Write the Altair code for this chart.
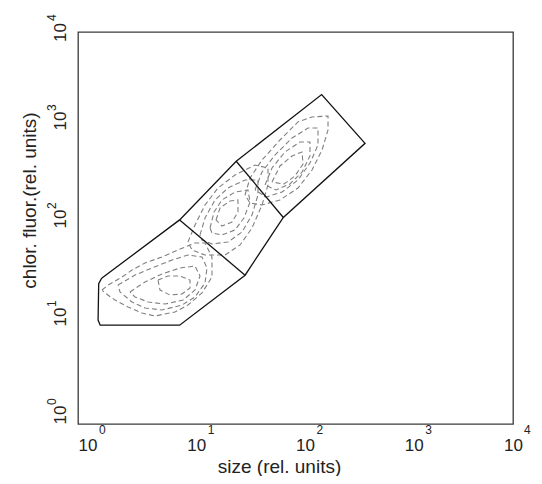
import altair as alt
import pandas as pd

# ---------------- axis ticks ----------------
tick_values = [1, 10, 100, 1000, 10000]
tick_exponents = ["0", "1", "2", "3", "4"]

# ---------------- gates (rel. units) ----------------
gate_x = [1.65, 1.55, 1.53, 1.6, 8.6, 34.4, 50, 77.3, 436, 174, 28.5, 8.6, 1.65]
gate_y = [30.7, 27, 11.5, 10.2, 10.2, 33, 62, 128, 731, 2300, 480, 121, 30.7]
divider1_x = [8.6, 34.4]
divider1_y = [121, 33]
divider2_x = [28.5, 77.3]
divider2_y = [480, 128]

# ---------------- contour rings (read in decades, log10 of rel. units) ----------------
lower_1_lx = [0.221, 0.276, 0.405, 0.497, 0.616, 0.772, 0.920, 1.076, 1.168, 1.232, 1.232, 1.140, 1.011, 0.892, 0.708, 0.589, 0.460, 0.340, 0.248]
lower_1_ly = [1.367, 1.418, 1.500, 1.571, 1.643, 1.704, 1.776, 1.847, 1.847, 1.704, 1.500, 1.337, 1.214, 1.143, 1.102, 1.133, 1.194, 1.265, 1.337]
lower_2_lx = [0.368, 0.524, 0.680, 0.864, 1.011, 1.140, 1.186, 1.168, 1.076, 0.956, 0.772, 0.616, 0.497, 0.386]
lower_2_ly = [1.418, 1.520, 1.592, 1.673, 1.724, 1.704, 1.592, 1.439, 1.296, 1.214, 1.163, 1.184, 1.245, 1.347]
lower_3_lx = [0.478, 0.616, 0.772, 0.938, 1.076, 1.122, 1.076, 0.966, 0.800, 0.644, 0.524]
lower_3_ly = [1.347, 1.449, 1.531, 1.592, 1.612, 1.510, 1.367, 1.265, 1.224, 1.245, 1.296]
lower_4_lx = [0.736, 0.754, 0.846, 0.956, 1.030, 1.030, 0.938, 0.828]
lower_4_ly = [1.469, 1.367, 1.316, 1.327, 1.388, 1.469, 1.510, 1.510]

middle_1_lx = [1.011, 1.076, 1.168, 1.287, 1.444, 1.628, 1.747, 1.747, 1.692, 1.600, 1.490, 1.352, 1.168, 1.048]
middle_1_ly = [1.857, 2.031, 2.235, 2.408, 2.541, 2.643, 2.612, 2.439, 2.235, 2.000, 1.827, 1.724, 1.724, 1.776]
middle_2_lx = [1.122, 1.168, 1.260, 1.379, 1.536, 1.655, 1.655, 1.600, 1.508, 1.379, 1.232, 1.140]
middle_2_ly = [1.929, 2.102, 2.286, 2.408, 2.490, 2.490, 2.337, 2.133, 1.959, 1.857, 1.837, 1.878]
middle_3_lx = [1.214, 1.251, 1.324, 1.444, 1.563, 1.582, 1.526, 1.444, 1.324, 1.232]
middle_3_ly = [2.000, 2.163, 2.286, 2.367, 2.388, 2.265, 2.102, 1.980, 1.929, 1.949]
middle_4_lx = [1.269, 1.306, 1.398, 1.471, 1.471, 1.416, 1.324]
middle_4_ly = [2.082, 2.204, 2.276, 2.286, 2.163, 2.061, 2.020]

upper_1_lx = [1.536, 1.582, 1.692, 1.857, 2.023, 2.152, 2.299, 2.299, 2.244, 2.152, 2.023, 1.857, 1.692, 1.582]
upper_1_ly = [2.337, 2.510, 2.694, 2.898, 3.082, 3.133, 3.143, 3.000, 2.796, 2.592, 2.408, 2.286, 2.235, 2.255]
upper_2_lx = [1.628, 1.692, 1.811, 1.968, 2.115, 2.207, 2.207, 2.133, 2.023, 1.876, 1.729]
upper_2_ly = [2.388, 2.571, 2.745, 2.918, 3.020, 3.020, 2.847, 2.663, 2.490, 2.367, 2.316]
upper_3_lx = [1.720, 1.784, 1.903, 2.041, 2.133, 2.133, 2.060, 1.949, 1.821]
upper_3_ly = [2.439, 2.612, 2.776, 2.878, 2.878, 2.735, 2.571, 2.449, 2.388]
upper_4_lx = [1.784, 1.857, 1.968, 2.060, 2.069, 1.995, 1.894]
upper_4_ly = [2.469, 2.633, 2.735, 2.776, 2.653, 2.531, 2.449]

rings = {
    "lower_1": (lower_1_lx, lower_1_ly), "lower_2": (lower_2_lx, lower_2_ly),
    "lower_3": (lower_3_lx, lower_3_ly), "lower_4": (lower_4_lx, lower_4_ly),
    "middle_1": (middle_1_lx, middle_1_ly), "middle_2": (middle_2_lx, middle_2_ly),
    "middle_3": (middle_3_lx, middle_3_ly), "middle_4": (middle_4_lx, middle_4_ly),
    "upper_1": (upper_1_lx, upper_1_ly), "upper_2": (upper_2_lx, upper_2_ly),
    "upper_3": (upper_3_lx, upper_3_ly), "upper_4": (upper_4_lx, upper_4_ly),
}

# ---------------- tables ----------------
gate_rows = []
for name, xs_, ys_ in [("outline", gate_x, gate_y), ("div1", divider1_x, divider1_y), ("div2", divider2_x, divider2_y)]:
    for i, (a, b) in enumerate(zip(xs_, ys_)):
        gate_rows.append({"x": a, "y": b, "g": name, "o": i})
gate_df = pd.DataFrame(gate_rows)

cont_rows = []
for name, (lx, ly) in rings.items():
    pts = list(zip(lx, ly)) + [(lx[0], ly[0])]
    for i, (a, b) in enumerate(pts):
        cont_rows.append({"x": 10 ** a, "y": 10 ** b, "g": name, "o": i})
cont_df = pd.DataFrame(cont_rows)

tick_df = pd.DataFrame({"x": tick_values, "y": tick_values, "e": tick_exponents})

FONT = "Liberation Sans"
xs = alt.Scale(type="log", domain=[1, 10000], nice=False)
ys = alt.Scale(type="log", domain=[1, 10000], nice=False)

xaxis = alt.Axis(values=tick_values, labelExpr="'10'", title="size (rel. units)",
                 labelAlign={"condition": {"test": "datum.value >= 10000", "value": "center"}, "value": "left"},
                 labelBaseline="alphabetic", labelPadding=26,
                 labelFlush=False, labelOverlap=False, labelFontSize=17, labelFont=FONT,
                 labelColor="#222", titleFont=FONT, titleFontSize=19, titleFontWeight="normal",
                 titleColor="#222", titleX=201, titleY=48, titleAlign="center",
                 titleBaseline="alphabetic", ticks=False, domain=False, grid=False)
yaxis = alt.Axis(values=tick_values, labelExpr="'10'", title="chlor. fluor.(rel. units)",
                 labelAngle=270,
                 labelAlign={"condition": {"test": "datum.value >= 10000", "value": "center"}, "value": "left"},
                 labelBaseline="alphabetic", labelPadding=13,
                 labelFlush=False, labelOverlap=False, labelFontSize=17, labelFont=FONT,
                 labelColor="#222", titleFont=FONT, titleFontSize=19, titleFontWeight="normal",
                 titleColor="#222", titleAngle=270, titleX=-43, titleY=168, titleAlign="center",
                 titleBaseline="alphabetic", ticks=False, domain=False, grid=False)

X = alt.X("x:Q", scale=xs, axis=xaxis)
Y = alt.Y("y:Q", scale=ys, axis=yaxis)

contours = alt.Chart(cont_df).mark_line(
    color="#808080", strokeDash=[5, 3], strokeWidth=1.1
).encode(x=X, y=Y, detail="g:N", order="o:Q")

gates = alt.Chart(gate_df).mark_line(
    color="#111111", strokeWidth=1.3
).encode(x=X, y=Y, detail="g:N", order="o:Q")

exp_style = dict(baseline="middle", fontSize=12, font=FONT, color="#222")

x_exp = alt.Chart(tick_df).transform_filter("datum.x < 10000").mark_text(
    align="left", dx=21, **exp_style
).encode(x=X, y=alt.value(398), text="e:N")

x_exp_last = alt.Chart(tick_df).transform_filter("datum.x >= 10000").mark_text(
    align="left", dx=11, **exp_style
).encode(x=X, y=alt.value(398), text="e:N")

y_exp = alt.Chart(tick_df).transform_filter("datum.y < 10000").mark_text(
    angle=270, align="left", dx=19, **exp_style
).encode(y=Y, x=alt.value(-26), text="e:N")

y_exp_top = alt.Chart(tick_df).transform_filter("datum.y >= 10000").mark_text(
    angle=270, align="left", dx=11, **exp_style
).encode(y=Y, x=alt.value(-26), text="e:N")

chart = alt.layer(contours, gates, x_exp, x_exp_last, y_exp, y_exp_top).properties(
    width=435, height=392,
    background="white",
    autosize=alt.AutoSizeParams(type="none"),
    padding={"left": 70, "top": 24, "right": 21, "bottom": 52},
).configure_view(stroke="#3a3a3a", strokeWidth=1.3)

chart.save("out.html", embed_options={"renderer": "svg", "actions": False})
